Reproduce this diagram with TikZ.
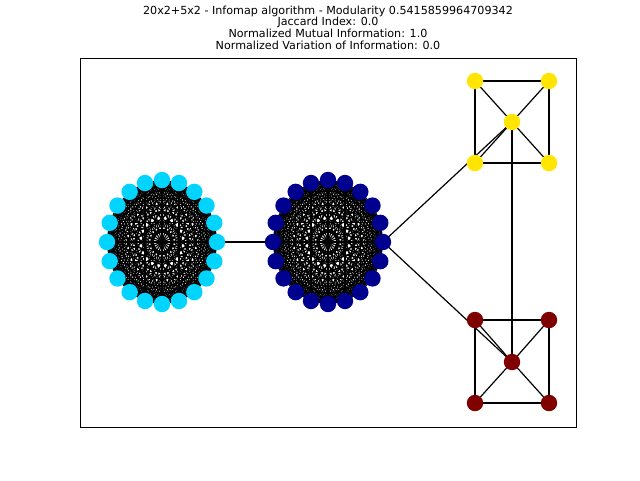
\documentclass[tikz,border=0pt]{standalone}
\usepackage{fontspec}
\setmainfont{DejaVu Sans}
\usetikzlibrary{backgrounds}
\definecolor{jetcyan}{HTML}{00D4FF}
\definecolor{jetnavy}{HTML}{00008F}
\definecolor{jetyellow}{HTML}{FFE500}
\definecolor{jetmaroon}{HTML}{800000}
\begin{document}
\begin{tikzpicture}[x=0.75pt,y=-0.75pt,
	vert/.style={circle,inner sep=0pt,minimum size=12.3pt,draw=none},
	edge/.style={line width=0.9pt,black}]
	\useasboundingbox (0,0) rectangle (640,480);
	\node[align=center,font=\fontsize{8.35}{8.75}\selectfont] (title) at (328,27.5)
		{20x2+5x2 - Infomap algorithm - Modularity 0.5415859964709342\\
		 Jaccard Index: 0.0\\
		 Normalized Mutual Information: 1.0\\
		 Normalized Variation of Information: 0.0};
	\foreach \i in {0,...,19}{
		\node[vert,fill=jetcyan] (a\i) at ({162+55*cos(18*\i)},{242-62*sin(18*\i)}) {};
		\node[vert,fill=jetnavy] (b\i) at ({328+55*cos(18*\i)},{242-62*sin(18*\i)}) {};
	}
	\foreach \n/\x/\y in {0/475/81,1/549/81,2/549/163,3/475/163,4/512/122}
		\node[vert,fill=jetyellow] (y\n) at (\x,\y) {};
	\foreach \n/\x/\y in {0/475/320,1/549/320,2/549/403,3/475/403,4/512/362}
		\node[vert,fill=jetmaroon] (r\n) at (\x,\y) {};
	\begin{pgfonlayer}{background}
		\draw[line width=0.75pt] (80,58) rectangle (576,427);
		\foreach \i in {0,...,18}{
			\pgfmathtruncatemacro\k{\i+1}
			\foreach \j in {\k,...,19}{
				\draw[edge] (a\i.center) -- (a\j.center);
				\draw[edge] (b\i.center) -- (b\j.center);
			}
		}
		\foreach \g in {y,r}{
			\draw[edge] (\g0.center) -- (\g1.center) -- (\g2.center) -- (\g3.center) -- cycle;
			\foreach \c in {0,...,3}
				\draw[edge] (\g\c.center) -- (\g4.center);
		}
		\draw[edge] (a0.center) -- (b10.center);
		\draw[edge] (b0.center) -- (y4.center);
		\draw[edge] (b0.center) -- (r4.center);
		\draw[edge] (y4.center) -- (r4.center);
	\end{pgfonlayer}
\end{tikzpicture}
\end{document}
